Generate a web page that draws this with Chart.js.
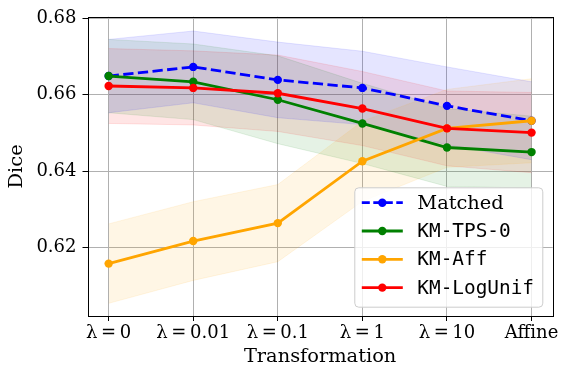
<!DOCTYPE html>
<html>
<head>
<meta charset="utf-8">
<script src="https://cdn.jsdelivr.net/npm/chart.js@4.4.0/dist/chart.umd.min.js"></script>
<style>
  html, body { margin: 0; padding: 0; background: #fff; }
</style>
</head>
<body>
<canvas id="chart" width="569" height="378"></canvas>
<script>
// categories on the x axis
const categories = ['λ\u2009=\u20090', 'λ\u2009=\u20090.01', 'λ\u2009=\u20090.1', 'λ\u2009=\u20091', 'λ\u2009=\u200910', 'Affine'];
const yTicks = [0.62, 0.64, 0.66, 0.68];

// mean dice per method
const matched = [0.6649, 0.6673, 0.6639, 0.6618, 0.6571, 0.6532];
const kmTps0 = [0.6649, 0.6634, 0.6587, 0.6525, 0.6462, 0.6450];
const kmAff = [0.6158, 0.6217, 0.6264, 0.6426, 0.6512, 0.6532];
const kmLogUnif = [0.6623, 0.6618, 0.6604, 0.6564, 0.6512, 0.6501];

// std (shaded band)
const matchedStd = [0.0096, 0.0094, 0.0099, 0.0096, 0.0102, 0.0102];
const kmTps0Std = [0.0096, 0.0099, 0.0115, 0.0105, 0.0102, 0.0094];
const kmAffStd = [0.0104, 0.0103, 0.0101, 0.0105, 0.0102, 0.0110];
const kmLogUnifStd = [0.0098, 0.0097, 0.0100, 0.0097, 0.0098, 0.0105];

const SERIF = "'DejaVu Serif', serif";
const MONO = "'DejaVu Sans Mono', monospace";

const series = [
  { label: 'Matched', mean: matched, std: matchedStd, color: '#0000ff', band: 'rgba(0,0,255,0.1)', dash: [10.3, 4.4], font: SERIF },
  { label: 'KM-TPS-0', mean: kmTps0, std: kmTps0Std, color: '#008000', band: 'rgba(0,128,0,0.1)', dash: [], font: MONO },
  { label: 'KM-Aff', mean: kmAff, std: kmAffStd, color: '#ffa500', band: 'rgba(255,165,0,0.1)', dash: [], font: MONO },
  { label: 'KM-LogUnif', mean: kmLogUnif, std: kmLogUnifStd, color: '#ff0000', band: 'rgba(255,0,0,0.1)', dash: [], font: MONO }
];

const toPoints = arr => arr.map((v, i) => ({ x: i, y: v }));

const datasets = [];
// bands first (lower + upper filled to lower)
series.forEach((s, k) => {
  const lowIdx = datasets.length;
  datasets.push({
    data: toPoints(s.mean.map((m, i) => m - s.std[i])),
    borderColor: s.band, borderWidth: 1, pointRadius: 0, fill: false, order: 20 + k
  });
  datasets.push({
    data: toPoints(s.mean.map((m, i) => m + s.std[i])),
    borderColor: s.band, borderWidth: 1, pointRadius: 0,
    backgroundColor: s.band, fill: lowIdx, order: 20 + k
  });
});
// lines, later series on top
series.forEach((s, k) => {
  datasets.push({
    label: s.label,
    data: toPoints(s.mean),
    borderColor: s.color,
    backgroundColor: s.color,
    borderWidth: 2.8,
    borderDash: s.dash,
    pointRadius: 4.2,
    pointBorderWidth: 0,
    pointBackgroundColor: s.color,
    fill: false,
    order: 3 - k
  });
});

const framePlugin = {
  id: 'frame',
  afterDatasetsDraw(chart) {
    const { ctx, chartArea: a } = chart;
    ctx.save();
    ctx.strokeStyle = '#000';
    ctx.lineWidth = 1;
    ctx.strokeRect(Math.round(a.left) + 0.5, Math.round(a.top) + 0.5,
      Math.round(a.right - a.left), Math.round(a.bottom - a.top));
    ctx.restore();
  }
};

const legendPlugin = {
  id: 'boxLegend',
  afterDraw(chart) {
    const { ctx, chartArea: a } = chart;
    const w = 188, h = 119.4;
    const x = a.right - 10.4 - w, y = a.bottom - 9.3 - h;
    ctx.save();
    ctx.beginPath();
    ctx.roundRect(x + 0.5, y + 0.5, w, h, 4);
    ctx.fillStyle = 'rgba(255,255,255,0.8)';
    ctx.fill();
    ctx.strokeStyle = '#cccccc';
    ctx.lineWidth = 1;
    ctx.stroke();
    series.forEach((s, i) => {
      const cy = y + 15.4 + i * 28.3;
      ctx.strokeStyle = s.color;
      ctx.lineWidth = 2.8;
      ctx.setLineDash(s.dash.length ? [8, 3.5] : []);
      ctx.beginPath();
      ctx.moveTo(x + 7.5, cy);
      ctx.lineTo(x + 48.5, cy);
      ctx.stroke();
      ctx.setLineDash([]);
      ctx.fillStyle = s.color;
      ctx.beginPath();
      ctx.arc(x + 28, cy, 4.2, 0, Math.PI * 2);
      ctx.fill();
      ctx.fillStyle = '#000';
      ctx.font = `19.4px ${s.font}`;
      ctx.textBaseline = 'middle';
      ctx.textAlign = 'left';
      ctx.fillText(s.label, x + 63, cy + 1);
    });
    ctx.restore();
  }
};

new Chart(document.getElementById('chart').getContext('2d'), {
  type: 'line',
  data: { datasets },
  options: {
    responsive: false,
    animation: false,
    events: [],
    layout: { padding: { top: 14.7, right: 16.3, bottom: 0, left: 0 } },
    plugins: {
      legend: { display: false },
      tooltip: { enabled: false },
      filler: { drawTime: 'beforeDatasetsDraw' }
    },
    scales: {
      x: {
        type: 'linear',
        min: -0.25,
        max: 5.25,
        afterBuildTicks: s => { s.ticks = categories.map((c, i) => ({ value: i })); },
        afterFit: s => { s.height = 62; },
        ticks: {
          callback: v => categories[v],
          color: '#000',
          font: { family: SERIF, size: 18 },
          padding: 2,
          maxRotation: 0,
          autoSkip: false
        },
        grid: { color: '#b0b0b0', lineWidth: 1, tickColor: '#000', tickLength: 5 },
        border: { display: false },
        title: {
          display: true, text: 'Transformation', color: '#000',
          font: { family: SERIF, size: 19.4 }, padding: { top: 0, bottom: 9.6 }
        }
      },
      y: {
        min: 0.60208,
        max: 0.68042,
        afterBuildTicks: s => { s.ticks = yTicks.map(v => ({ value: v })); },
        afterFit: s => { s.width = 87.5; },
        ticks: {
          callback: v => v.toFixed(2),
          color: '#000',
          font: { family: SERIF, size: 18 },
          padding: 6
        },
        grid: { color: '#b0b0b0', lineWidth: 1, tickColor: '#000', tickLength: 5 },
        border: { display: false },
        title: {
          display: true, text: 'Dice', color: '#000',
          font: { family: SERIF, size: 19.4 }, padding: { top: 5, bottom: 0 }
        }
      }
    }
  },
  plugins: [framePlugin, legendPlugin]
});
</script>
</body>
</html>
